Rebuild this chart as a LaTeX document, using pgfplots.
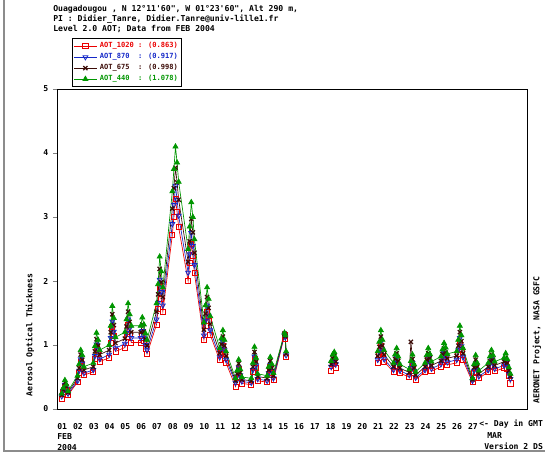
\documentclass[border=0pt]{standalone}
\usepackage{pgfplots}
\pgfplotsset{compat=1.18}
\usepackage{pgfplotstable}
\usepackage{fontspec}
\setmainfont{DejaVu Sans Mono}
\newfontfamily\mono{DejaVu Sans Mono}
\newcommand\tf{\mono\bfseries\fontsize{6.1}{7.5}\selectfont}
\newcommand\lf{\mono\bfseries\fontsize{5.3}{6}\selectfont}
\definecolor{c1020}{RGB}{235,0,0}
\definecolor{c870}{RGB}{20,40,200}
\definecolor{c675}{RGB}{60,12,8}
\definecolor{c440}{RGB}{0,150,0}
\pgfplotstableread{
t a1020 a870 a675 a440
1.30 0.16 0.20 0.22 0.24
1.40 0.26 0.28 0.30 0.33
1.50 0.36 0.38 0.41 0.45
1.60 0.30 0.32 0.35 0.38
1.70 0.22 0.24 0.26 0.28
2.30 0.42 0.44 0.48 0.52
2.40 0.56 0.60 0.64 0.70
2.50 0.74 0.78 0.85 0.92
2.60 0.67 0.71 0.77 0.84
2.70 0.53 0.56 0.61 0.66
3.30 0.58 0.61 0.66 0.72
3.40 0.78 0.83 0.90 0.98
3.50 0.95 1.01 1.09 1.19
3.60 0.86 0.92 0.99 1.08
3.70 0.74 0.78 0.85 0.92
4.30 0.80 0.85 0.92 1.00
4.40 1.04 1.11 1.20 1.30
4.50 1.29 1.37 1.48 1.61
4.60 1.14 1.21 1.31 1.42
4.70 0.90 0.95 1.03 1.12
5.30 0.96 1.02 1.10 1.20
5.40 1.12 1.19 1.29 1.40
5.50 1.32 1.40 1.52 1.65
5.60 1.18 1.26 1.36 1.48
5.70 1.04 1.11 1.20 1.30
6.30 1.04 1.11 1.20 1.30
6.40 1.14 1.22 1.32 1.43
6.50 1.06 1.12 1.21 1.32
6.60 0.94 1.00 1.09 1.18
6.70 0.86 0.92 0.99 1.08
7.30 1.32 1.40 1.52 1.65
7.40 1.56 1.66 1.79 1.95
7.50 1.90 2.02 2.19 2.38
7.60 1.72 1.83 1.98 2.15
7.70 1.52 1.62 1.75 1.90
8.30 2.72 2.89 3.13 3.40
8.40 3.00 3.19 3.45 3.75
8.50 3.28 3.49 3.77 4.10
8.60 3.08 3.27 3.54 3.85
8.70 2.84 3.02 3.27 3.55
9.30 2.00 2.13 2.30 2.50
9.40 2.28 2.42 2.62 2.85
9.50 2.58 2.75 2.97 3.23
9.60 2.40 2.55 2.76 3.00
9.70 2.12 2.25 2.44 2.65
10.30 1.08 1.15 1.24 1.35
10.40 1.30 1.38 1.49 1.62
10.50 1.52 1.62 1.75 1.90
10.60 1.38 1.46 1.58 1.72
10.70 1.16 1.23 1.33 1.45
11.30 0.76 0.81 0.87 0.95
11.40 0.88 0.94 1.01 1.10
11.50 0.98 1.05 1.13 1.23
11.60 0.86 0.92 0.99 1.08
11.70 0.72 0.77 0.83 0.90
12.30 0.35 0.41 0.44 0.48
12.40 0.48 0.51 0.55 0.60
12.50 0.62 0.65 0.71 0.77
12.60 0.50 0.53 0.57 0.62
12.70 0.40 0.43 0.46 0.50
13.30 0.38 0.41 0.44 0.48
13.40 0.58 0.61 0.66 0.72
13.50 0.78 0.82 0.89 0.97
13.60 0.64 0.68 0.74 0.80
13.70 0.44 0.47 0.51 0.55
14.30 0.42 0.44 0.48 0.52
14.40 0.53 0.56 0.61 0.66
14.50 0.65 0.69 0.75 0.81
14.60 0.56 0.60 0.64 0.70
14.70 0.45 0.48 0.52 0.56
15.40 1.15 1.16 1.18 1.19
15.45 1.10 1.12 1.14 1.15
15.50 0.82 0.84 0.86 0.90
16.50 nan nan nan nan
18.35 0.60 0.66 0.70 0.75
18.45 0.70 0.74 0.79 0.85
18.55 0.74 0.78 0.83 0.89
18.65 0.64 0.70 0.74 0.80
19.50 nan nan nan nan
21.30 0.72 0.77 0.83 0.90
21.40 0.84 0.89 0.97 1.05
21.50 0.98 1.05 1.13 1.23
21.60 0.86 0.92 0.99 1.08
21.70 0.74 0.78 0.85 0.92
22.30 0.58 0.61 0.66 0.72
22.40 0.68 0.72 0.78 0.85
22.50 0.76 0.81 0.87 0.95
22.60 0.66 0.70 0.75 0.82
22.70 0.56 0.60 0.64 0.70
23.30 0.50 0.53 0.57 0.62
23.40 0.60 0.64 1.05 0.75
23.50 0.68 0.72 0.78 0.85
23.60 0.56 0.60 0.64 0.70
23.70 0.46 0.49 0.53 0.58
24.30 0.58 0.61 0.66 0.72
24.40 0.67 0.71 0.77 0.84
24.50 0.76 0.81 0.87 0.95
24.60 0.69 0.73 0.79 0.86
24.70 0.59 0.63 0.68 0.74
25.30 0.66 0.70 0.75 0.82
25.40 0.74 0.79 0.86 0.93
25.50 0.82 0.88 0.95 1.03
25.60 0.77 0.82 0.88 0.96
25.70 0.69 0.73 0.79 0.86
26.30 0.72 0.77 0.83 0.90
26.40 0.86 0.92 0.99 1.08
26.50 1.04 1.11 1.20 1.30
26.60 0.92 0.98 1.06 1.15
26.70 0.76 0.81 0.87 0.95
27.30 0.42 0.44 0.46 0.48
27.40 0.56 0.60 0.65 0.70
27.50 0.67 0.71 0.77 0.84
27.60 0.58 0.61 0.66 0.72
27.70 0.48 0.51 0.55 0.60
28.30 0.58 0.61 0.66 0.72
28.40 0.66 0.70 0.75 0.82
28.50 0.74 0.78 0.85 0.92
28.60 0.67 0.71 0.77 0.84
28.70 0.59 0.63 0.68 0.74
29.30 0.64 0.68 0.74 0.80
29.40 0.70 0.74 0.80 0.87
29.50 0.62 0.66 0.72 0.78
29.60 0.52 0.55 0.60 0.65
29.70 0.40 0.47 0.51 0.55
}\data
\begin{document}
\begin{tikzpicture}
\begin{scope}[x=0.75pt,y=-0.75pt]
\useasboundingbox (0,0) rectangle (545,456);
\draw[black!45, line width=1.2pt] (4,0) -- (4,451) -- (545,451);
\node[anchor=base west, inner sep=0pt, font=\tf] at (53,12) {Ouagadougou , N 12°11'60", W 01°23'60", Alt 290 m,};
\node[anchor=base west, inner sep=0pt, font=\tf] at (53,22) {PI : Didier\_Tanre, Didier.Tanre@univ-lille1.fr};
\node[anchor=base west, inner sep=0pt, font=\tf] at (53,32) {Level 2.0 AOT; Data from FEB 2004};
\node[rotate=90, inner sep=0pt, font=\tf] at (30,335) {Aerosol Optical Thickness};
\node[rotate=90, inner sep=0pt, font=\tf] at (537,340) {AERONET Project, NASA GSFC};
\node[anchor=west, inner sep=0pt, font=\tf] at (479,424) {<- Day in GMT};
\node[anchor=west, inner sep=0pt, font=\tf] at (57,437) {FEB};
\node[anchor=west, inner sep=0pt, font=\tf] at (57,448) {2004};
\node[anchor=west, inner sep=0pt, font=\tf] at (487,436) {MAR};
\node[anchor=west, inner sep=0pt, font=\tf] at (484,446) {Version 2 DS};
\end{scope}
\begin{axis}[
  at={(42.75pt,-306.75pt)}, anchor=south west,
  scale only axis, width=352.5pt, height=240pt,
  xmin=1, xmax=30.75, ymin=0, ymax=5,
  unbounded coords=jump,
  xtick={1,...,27},
  xticklabels={01,02,03,04,05,06,07,08,09,10,11,12,13,14,15,16,17,18,19,20,21,22,23,24,25,26,27},
  xtick style={draw=none},
  x tick label style={font=\tf, anchor=north west, inner sep=0pt, yshift=-8pt, xshift=0pt},
  ytick={0,1,2,3,4,5},
  yticklabels={0,1,2,3,4,5},
  ytick pos=left, xtick pos=bottom,
  tick align=outside, major tick length=3pt,
  y tick label style={font=\tf},
  axis line style={line width=0.6pt},
  legend style={at={(0.032,1.006)}, anchor=south west, font=\lf, draw=black,
    inner sep=1pt, row sep=-1.3pt, cells={anchor=west}, line width=0.5pt},
  legend cell align=left,
]
\addplot[c1020, line width=0.5pt, mark=square, mark size=1.9pt, mark options={solid, line width=0.6pt}] table[x=t,y=a1020]{\data};
\addlegendentry{\textcolor{c1020}{AOT\_1020 : (0.863)}}
\addplot[c870, line width=0.5pt, mark=triangle, mark size=2.1pt, mark options={solid, rotate=180, line width=0.6pt}] table[x=t,y=a870]{\data};
\addlegendentry{\textcolor{c870}{AOT\_870\ \ : (0.917)}}
\addplot[c675, line width=0.5pt, mark=x, mark size=2.2pt, mark options={solid, line width=0.9pt}] table[x=t,y=a675]{\data};
\addlegendentry{\textcolor{c675}{AOT\_675\ \ : (0.998)}}
\addplot[c440, line width=0.5pt, mark=triangle*, mark size=2.2pt, mark options={solid}] table[x=t,y=a440]{\data};
\addlegendentry{\textcolor{c440}{AOT\_440\ \ : (1.078)}}
\end{axis}
\end{tikzpicture}
\end{document}
